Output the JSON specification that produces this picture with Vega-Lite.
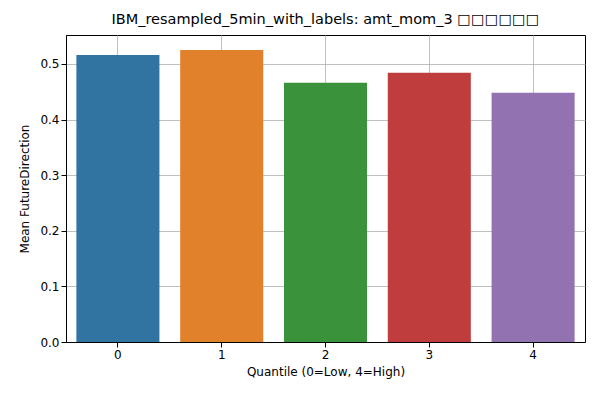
{
  "$schema": "https://vega.github.io/schema/vega-lite/v6.json",
  "width": 519,
  "height": 307,
  "padding": {"left": 66, "top": 35, "right": 15, "bottom": 58},
  "autosize": {"type": "none"},
  "background": "white",
  "title": {
    "text": "IBM_resampled_5min_with_labels: amt_mom_3 □□□□□□",
    "font": "DejaVu Sans",
    "fontSize": 14.5,
    "fontWeight": "normal",
    "color": "black",
    "offset": 8
  },
  "config": {
    "view": {"stroke": "black", "strokeWidth": 1},
    "axis": {
      "labelFont": "DejaVu Sans",
      "titleFont": "DejaVu Sans",
      "labelFontSize": 12,
      "titleFontSize": 12,
      "titleFontWeight": "normal",
      "labelColor": "black",
      "titleColor": "black",
      "domainColor": "black",
      "tickColor": "black",
      "gridColor": "#b0b0b0",
      "gridWidth": 0.8,
      "zindex": 1
    }
  },
  "data": {
    "values": [
      {"q": "0", "v": 0.516},
      {"q": "1", "v": 0.525},
      {"q": "2", "v": 0.466},
      {"q": "3", "v": 0.484},
      {"q": "4", "v": 0.448}
    ]
  },
  "mark": {"type": "bar"},
  "encoding": {
    "x": {
      "field": "q",
      "type": "ordinal",
      "title": "Quantile (0=Low, 4=High)",
      "scale": {"paddingInner": 0.2, "paddingOuter": 0.1},
      "axis": {"labelAngle": 0, "grid": true, "bandPosition": 0.5, "titlePadding": 6}
    },
    "y": {
      "field": "v",
      "type": "quantitative",
      "title": "Mean FutureDirection",
      "scale": {"domain": [0, 0.552], "nice": false},
      "axis": {"values": [0, 0.1, 0.2, 0.3, 0.4, 0.5], "format": ".1f", "grid": true, "titlePadding": 8}
    },
    "color": {
      "field": "q",
      "type": "nominal",
      "legend": null,
      "scale": {"range": ["#3274a1", "#e1812c", "#3a923a", "#c03d3e", "#9372b2"]}
    }
  }
}
